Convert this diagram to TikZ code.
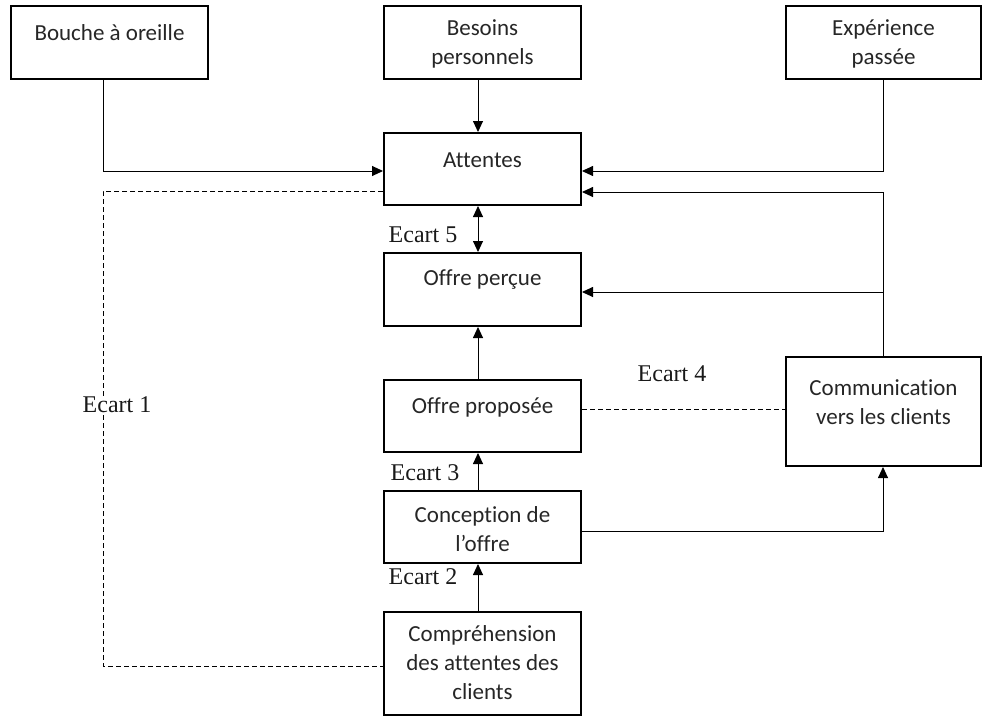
\documentclass[tikz,border=0pt]{standalone}
\usepackage{fontspec}
\setmainfont{Carlito}[Ligatures=NoCommon]
\newfontfamily\ecartfont{Liberation Serif}
\usetikzlibrary{arrows.meta}
\begin{document}
\begin{tikzpicture}[x=1pt,y=-1pt,
  box/.style={draw, line width=2pt, rectangle, inner sep=0pt, minimum width=197pt},
  txt/.style={align=center, inner sep=0pt, text=black!85, font=\fontsize{23}{29}\selectfont},
  ecart/.style={inner sep=1pt, text=black!90, font=\ecartfont\fontsize{24}{28}\selectfont},
  link/.style={line width=0.9pt},
  arr/.style={link, -{Triangle[length=11pt,width=10pt]}},
  darr/.style={link, {Triangle[length=11pt,width=10pt]}-{Triangle[length=11pt,width=10pt]}},
  gap/.style={link, dashed, dash pattern=on 5pt off 3pt}]
\useasboundingbox (0,0) rectangle (985,717);

% frames
\node[box, minimum height=73pt] (bouche) at (109.5,42.5) {};
\node[box, minimum height=73pt] (besoins) at (482.5,42.5) {};
\node[box, minimum height=73pt, minimum width=195pt] (experience) at (883.5,42.5) {};
\node[box, minimum height=72pt] (attentes) at (482.5,169) {};
\node[box, minimum height=73pt] (percue) at (482.5,289.5) {};
\node[box, minimum height=72pt] (proposee) at (482.5,416) {};
\node[box, minimum height=72pt] (conception) at (482.5,527) {};
\node[box, minimum height=103pt] (comprehension) at (482.5,663.5) {};
\node[box, minimum height=109pt, minimum width=195pt] (communication) at (883.5,411.5) {};

% box texts
\node[txt] (tbouche) at (109.5,33) {Bouche à oreille};
\node[txt] (tbesoins) at (482.5,43.5) {Besoins\\personnels};
\node[txt] (texperience) at (883.5,43.5) {Expérience\\passée};
\node[txt] (tattentes) at (482.5,160) {Attentes};
\node[txt] (tpercue) at (482.5,280) {Offre perçue};
\node[txt] (tproposee) at (482.5,407) {Offre proposée};
\node[txt] (tconception) at (482.5,529) {Conception de\\l’offre};
\node[txt] (tcomprehension) at (482.5,663) {Compréhension\\des attentes des\\clients};
\node[txt] (tcommunication) at (883.5,402.5) {Communication\\vers les clients};

% helper coordinates
\coordinate (xmid) at (478,0);
\coordinate (xleft) at (103,0);
\coordinate (xright) at (883,0);
\coordinate (yone) at (0,171);
\coordinate (ytwo) at (0,192);
\coordinate (ydash) at (0,191);
\coordinate (yper) at (0,292);
\coordinate (yprop) at (0,409);
\coordinate (yconc) at (0,531);
\coordinate (ycomp) at (0,666);

% solid connectors
\draw[arr] (bouche.south -| xleft) |- (attentes.west |- yone);
\draw[arr] (besoins.south -| xmid) -- (attentes.north -| xmid);
\draw[arr] (experience.south -| xright) |- (attentes.east |- yone);
\draw[arr] (communication.north -| xright) |- (attentes.east |- ytwo);
\draw[arr] (communication.north |- yper) -- (percue.east |- yper);
\draw[darr] (attentes.south -| xmid) -- (percue.north -| xmid);
\draw[arr] (proposee.north -| xmid) -- (percue.south -| xmid);
\draw[arr] (conception.north -| xmid) -- (proposee.south -| xmid);
\draw[arr] (comprehension.north -| xmid) -- (conception.south -| xmid);
\draw[arr] (conception.east |- yconc) -| (communication.south -| xright);

% dashed gaps
\draw[gap] (proposee.east |- yprop) -- (communication.west |- yprop);
\draw[gap] (attentes.west |- ydash) -| (xleft |- ycomp) -- (comprehension.west |- ycomp);

% gap labels
\node[ecart, fill=white] (e1) at (117,405) {Ecart 1};
\node[ecart] (e2) at (423,577) {Ecart 2};
\node[ecart] (e3) at (425,473) {Ecart 3};
\node[ecart] (e4) at (672,374) {Ecart 4};
\node[ecart] (e5) at (423,235) {Ecart 5};
\end{tikzpicture}
\end{document}
